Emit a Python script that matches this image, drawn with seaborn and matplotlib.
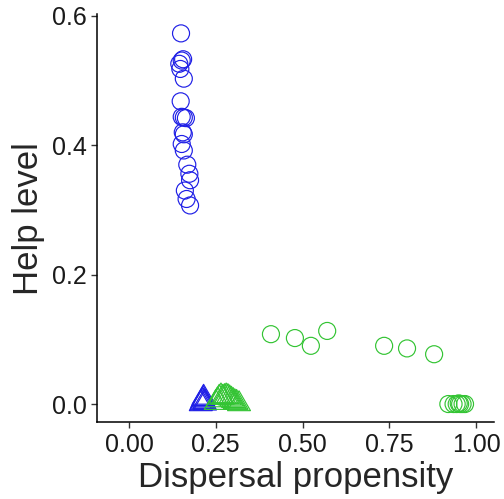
import matplotlib
matplotlib.use("Agg")
import matplotlib.pyplot as plt
from matplotlib.path import Path
import seaborn as sns
import pandas as pd

# --- data -------------------------------------------------------------
blue_circle_x = [0.150, 0.152, 0.145, 0.156, 0.148, 0.158, 0.149, 0.152, 0.158, 0.164,
                 0.155, 0.158, 0.152, 0.158, 0.168, 0.174, 0.176, 0.161, 0.166, 0.176]
blue_circle_y = [0.573, 0.531, 0.526, 0.533, 0.518, 0.503, 0.468, 0.444, 0.443, 0.442,
                 0.420, 0.417, 0.402, 0.392, 0.370, 0.356, 0.346, 0.330, 0.317, 0.307]

blue_tri_x = [0.207, 0.209, 0.211, 0.212, 0.214, 0.215, 0.217, 0.219]
blue_tri_y = [0.000, 0.002, 0.004, 0.006, 0.008, 0.010, 0.003, 0.001]

green_circle_x = [0.409, 0.478, 0.524, 0.571, 0.735, 0.801, 0.879,
                  0.920, 0.935, 0.944, 0.950, 0.954, 0.961, 0.968]
green_circle_y = [0.108, 0.102, 0.090, 0.113, 0.090, 0.086, 0.077,
                  0.000, 0.000, 0.000, 0.001, 0.000, 0.000, 0.000]

green_tri_x = [0.250, 0.255, 0.260, 0.265, 0.270, 0.275, 0.280, 0.285, 0.290, 0.295,
               0.300, 0.305, 0.310, 0.317]
green_tri_y = [0.002, 0.006, 0.010, 0.012, 0.010, 0.011, 0.012, 0.011, 0.009, 0.007,
               0.005, 0.003, 0.002, 0.000]

x_ticks = [0.00, 0.25, 0.50, 0.75, 1.00]
x_tick_labels = ["0.00", "0.25", "0.50", "0.75", "1.00"]
y_ticks = [0.0, 0.2, 0.4, 0.6]
y_tick_labels = ["0.0", "0.2", "0.4", "0.6"]

x_label = "Dispersal propensity"
y_label = "Help level"

# --- table --------------------------------------------------------------
def block(xs, ys, group, shape):
    return pd.DataFrame({"x": xs, "y": ys, "group": group, "shape": shape})

df = pd.concat([
    block(blue_circle_x, blue_circle_y, "blue", "circle"),
    block(green_circle_x, green_circle_y, "green", "circle"),
    block(blue_tri_x, blue_tri_y, "blue", "triangle"),
    block(green_tri_x, green_tri_y, "green", "triangle"),
], ignore_index=True)

# --- plot ---------------------------------------------------------------
sns.set_theme(style="ticks")
plt.rcParams["font.family"] = ["Liberation Sans", "DejaVu Sans"]

fig = plt.figure(figsize=(5.04, 4.99), dpi=100)
ax = fig.add_axes([0.1925, 0.154, 0.788, 0.818])

palette = {"blue": "#1f1fe6", "green": "#33c433"}
# R-style open triangle (pch 2): centroid-centred, wider than tall
tri = Path([(0.0, 1.555), (-1.347, -0.777), (1.347, -0.777), (0.0, 1.555)],
           [Path.MOVETO, Path.LINETO, Path.LINETO, Path.CLOSEPOLY])
markers = {"circle": "o", "triangle": tri}
sizes = {"circle": 150, "triangle": 363}

sns.scatterplot(data=df, x="x", y="y", hue="group", style="shape",
                size="shape", sizes=sizes,
                palette=palette, markers=markers, linewidth=0.85,
                legend=False, ax=ax)

for coll in ax.collections:
    fc = coll.get_facecolors()
    coll.set_edgecolors(fc)
    coll.set_facecolors("none")

ax.set_xlim(-0.092, 1.052)
ax.set_ylim(-0.028, 0.603)
ax.set_xticks(x_ticks)
ax.set_xticklabels(x_tick_labels)
ax.set_yticks(y_ticks)
ax.set_yticklabels(y_tick_labels)

ax.set_xlabel(x_label, fontsize=25, labelpad=3)
ax.set_ylabel(y_label, fontsize=25, labelpad=5)
ax.tick_params(axis="both", labelsize=18, length=4.5, width=1.0,
               color="#333333", labelcolor="#1a1a1a", pad=3)

sns.despine(ax=ax)
for side in ["left", "bottom"]:
    ax.spines[side].set_linewidth(1.1)
    ax.spines[side].set_color("black")

fig.savefig("out.png", dpi=100)
